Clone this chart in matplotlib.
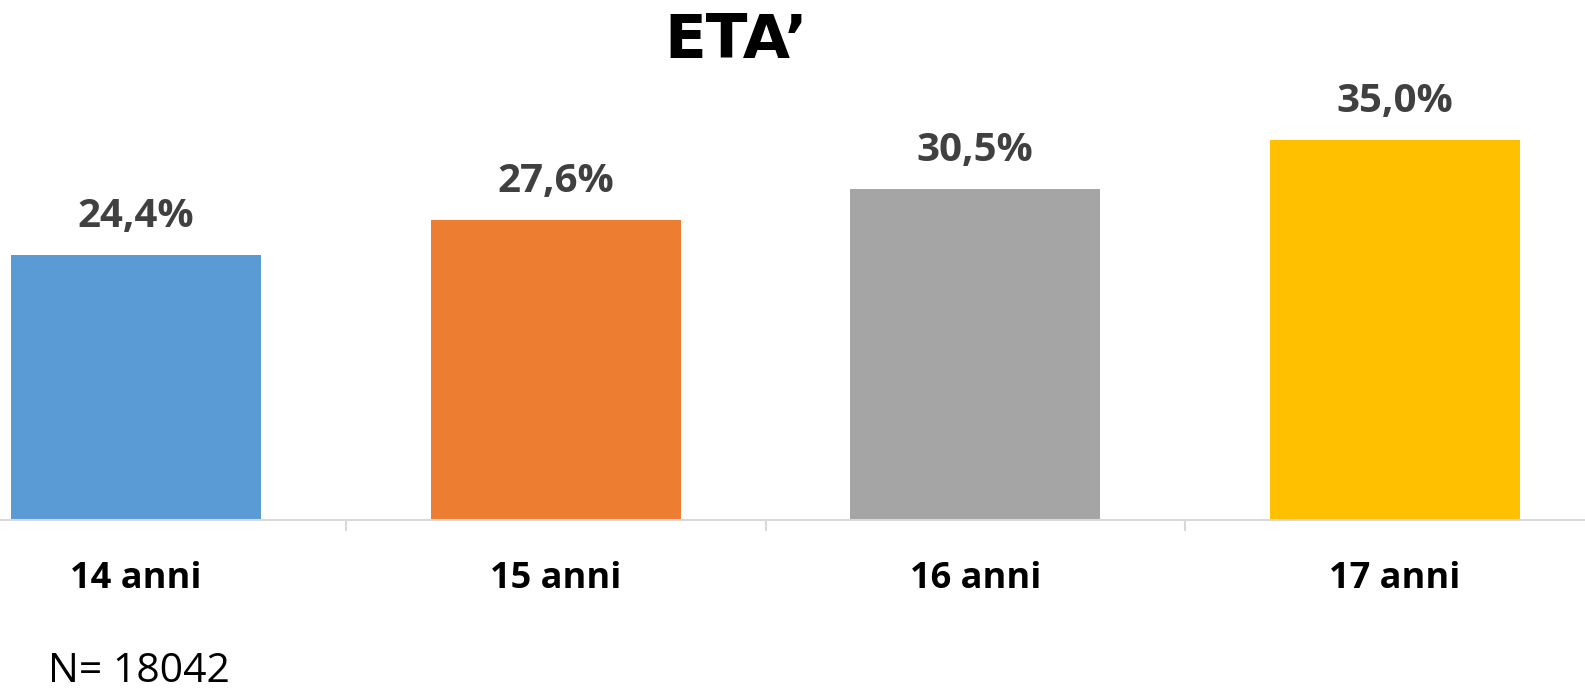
import matplotlib
matplotlib.use("Agg")
import matplotlib.pyplot as plt

categories = ["14 anni", "15 anni", "16 anni", "17 anni"]
values = [24.4, 27.6, 30.5, 35.0]
labels = ["24,4%", "27,6%", "30,5%", "35,0%"]
colors = ["#5B9BD5", "#ED7D31", "#A5A5A5", "#FFC000"]

W, H = 1585, 694
fig = plt.figure(figsize=(W / 100, H / 100), dpi=100)

# l'asse sborda un po' a sinistra e a destra, come nell'originale
cat_w = 419.5
base_y = 519.5
px_per_unit = 10.85
ymax = 40
ax = fig.add_axes([-73.5 / W, (H - base_y) / H, 4 * cat_w / W, ymax * px_per_unit / H])

x = range(len(categories))
ax.bar(x, values, width=0.595, color=colors)
ax.set_xlim(-0.5, len(categories) - 0.5)
ax.set_ylim(0, ymax)

for xi, v, lab in zip(x, values, labels):
    ax.text(xi, v + 3.55, lab, ha="center", va="center", fontsize=29,
            fontweight="bold", color="#404040", family="Open Sans")

for s in ["top", "right", "left"]:
    ax.spines[s].set_visible(False)
ax.spines["bottom"].set_color("#D9D9D9")
ax.spines["bottom"].set_linewidth(1.5)
ax.set_yticks([])
ax.set_xticks([0.5, 1.5, 2.5, 3.5])
ax.set_xticklabels([])
ax.tick_params(axis="x", length=8, width=1.5, color="#D9D9D9")

for xi, c in zip(x, categories):
    ax.text(xi, -5.5, c, ha="center", va="center", fontsize=26,
            fontweight="bold", color="black", family="Open Sans")

fig.text(736 / W, 1 - 41 / H, "ETA\u2019", ha="center", va="center",
         fontsize=44, fontweight="bold", family="DejaVu Sans")
fig.text(48 / W, 1 - 672 / H, "N= 18042", ha="left", va="center",
         fontsize=29.5, family="Open Sans")

fig.savefig("out.png", dpi=100)
